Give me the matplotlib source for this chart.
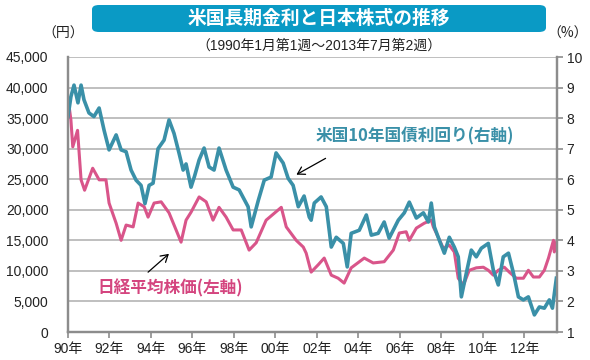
import matplotlib
matplotlib.use('Agg')
from matplotlib import pyplot as plt
from matplotlib.patches import FancyBboxPatch

# Data (decimal year, value)
NIKKEI_YEARS = [1990.0, 1990.14, 1990.23, 1990.46, 1990.63, 1990.8, 1991.19, 1991.5,
                1991.83, 1991.98, 1992.32, 1992.56, 1992.8, 1993.14, 1993.38, 1993.67,
                1993.86, 1994.15, 1994.49, 1994.87, 1995.21, 1995.45, 1995.69, 1995.93,
                1996.32, 1996.66, 1996.99, 1997.28, 1997.62, 1997.96, 1998.35, 1998.73,
                1999.07, 1999.55, 2000.28, 2000.52, 2001.0, 2001.34, 2001.48, 2001.72,
                2002.06, 2002.35, 2002.69, 2003.02, 2003.31, 2003.65, 2004.28, 2004.71,
                2005.24, 2005.68, 2005.97, 2006.3, 2006.45, 2006.79, 2007.17, 2007.51,
                2007.61, 2007.75, 2008.09, 2008.38, 2008.62, 2008.81, 2009.06, 2009.34,
                2009.68, 2010.02, 2010.26, 2010.5, 2010.74, 2011.03, 2011.27, 2011.61,
                2011.95, 2012.19, 2012.43, 2012.72, 2012.96, 2013.16, 2013.4, 2013.44,
                2013.55]
NIKKEI = [38300, 34700, 30300, 33000, 24900, 23200, 26800, 24900,
          24900, 21100, 17800, 15000, 17500, 17200, 21100, 20500,
          18800, 21100, 21300, 19500, 16700, 14700, 18300, 19600,
          22100, 21300, 18300, 20400, 18800, 16700, 16700, 13400,
          14600, 18300, 20400, 17200, 15000, 13900, 12900, 9800,
          11000, 12100, 9300, 8800, 8000, 10500, 12100, 11300,
          11500, 13400, 16200, 16400, 15000, 17000, 17800, 18300,
          17200, 16200, 13700, 14200, 13100, 8800, 7700, 10100,
          10500, 10600, 10100, 9300, 10100, 10600, 9800, 8800,
          8800, 10100, 9000, 9000, 10100, 12100, 15000, 13100,
          14700]

US10Y_YEARS = [1990.0, 1990.14, 1990.29, 1990.48, 1990.63, 1990.77, 1991.01, 1991.25,
               1991.5, 1991.74, 1991.98, 1992.32, 1992.56, 1992.8, 1993.04, 1993.28,
               1993.52, 1993.71, 1993.91, 1994.1, 1994.34, 1994.63, 1994.87, 1995.11,
               1995.35, 1995.55, 1995.69, 1995.93, 1996.1, 1996.32, 1996.56, 1996.8,
               1997.04, 1997.28, 1997.62, 1997.96, 1998.25, 1998.68, 1998.83, 1999.17,
               1999.46, 1999.79, 2000.03, 2000.37, 2000.61, 2000.85, 2001.1, 2001.38,
               2001.63, 2001.72, 2001.87, 2002.2, 2002.45, 2002.69, 2002.93, 2003.27,
               2003.46, 2003.65, 2004.04, 2004.38, 2004.62, 2004.95, 2005.24, 2005.48,
               2005.92, 2006.21, 2006.45, 2006.79, 2007.13, 2007.37, 2007.51, 2007.66,
               2007.9, 2008.14, 2008.38, 2008.62, 2008.81, 2008.96, 2009.2, 2009.44,
               2009.68, 2009.92, 2010.26, 2010.5, 2010.74, 2010.98, 2011.23, 2011.47,
               2011.71, 2011.95, 2012.19, 2012.48, 2012.72, 2012.96, 2013.2, 2013.35,
               2013.54]
US10Y = [8.05, 8.7, 9.08, 8.5, 9.08, 8.6, 8.17, 8.05,
         8.33, 7.6, 6.96, 7.45, 6.96, 6.9, 6.3, 5.97,
         5.8, 5.2, 5.8, 5.87, 7.0, 7.28, 7.94, 7.5,
         6.86, 6.3, 6.5, 5.74, 6.1, 6.63, 7.02, 6.4,
         6.3, 7.02, 6.3, 5.74, 5.65, 5.1, 4.44, 5.3,
         5.97, 6.07, 6.86, 6.53, 6.03, 5.8, 5.1, 5.45,
         4.76, 4.66, 5.22, 5.42, 5.1, 3.78, 4.1, 3.9,
         3.13, 4.23, 4.33, 4.83, 4.17, 4.23, 4.6, 4.07,
         4.66, 4.9, 5.25, 4.73, 4.9, 4.6, 5.22, 4.44,
         4.0, 3.58, 4.1, 3.78, 3.46, 2.15, 2.93, 3.68,
         3.46, 3.74, 3.9, 3.03, 2.54, 3.46, 3.58, 2.93,
         2.15, 2.05, 2.15, 1.56, 1.82, 1.78, 2.05, 1.78,
         2.76]

TICK_YEARS = list(range(1990, 2013, 2))
TICK_LABELS = ['%02d年' % (y % 100) for y in TICK_YEARS]

PINK = '#d9558a'
TEAL = '#3a90a8'
TITLE_BG = '#0a9ac5'
FONTS = ['Liberation Sans', 'Noto Sans CJK JP', 'DejaVu Sans']
JP = ['Noto Sans CJK JP', 'DejaVu Sans']

plt.rcParams['font.family'] = FONTS

W, H = 590, 360
fig = plt.figure(figsize=(W / 100, H / 100), dpi=100)

def fx(px):
    return px / W

def fy(py):
    return 1 - py / H

ax = fig.add_axes([fx(68), fy(332), fx(557) - fx(68), fy(57) - fy(332)])
ax2 = ax.twinx()

ax.plot(NIKKEI_YEARS, NIKKEI, color=PINK, lw=2.2, solid_joinstyle='round')
ax2.plot(US10Y_YEARS, US10Y, color=TEAL, lw=2.6, solid_joinstyle='round')

ax.set_xlim(1990, 2013.57)
ax.set_ylim(0, 45000)
ax2.set_ylim(1, 10)
ax.set_yticks(range(0, 45001, 5000))
ax.set_yticklabels(['{:,}'.format(v) for v in range(0, 45001, 5000)])
ax2.set_yticks(range(1, 11))
ax.set_xticks(TICK_YEARS)
ax.set_xticklabels(TICK_LABELS)

ax.grid(axis='y', color='#b4b4b4', lw=1.2)
ax.set_axisbelow(True)
for a in (ax, ax2):
    a.spines['top'].set_visible(False)
    for s in ('left', 'right', 'bottom'):
        a.spines[s].set_color('#8c8c8c')
        a.spines[s].set_linewidth(1.6)
ax.tick_params(axis='y', length=0, pad=14, labelsize=10, colors='#222222')
ax2.tick_params(axis='y', length=4, width=1.2, color='#8c8c8c', pad=3, labelsize=10, labelcolor='#222222')
ax.tick_params(axis='x', length=4, width=1.2, color='#8c8c8c', pad=3, labelsize=10, labelcolor='#222222')

# Title box
box = FancyBboxPatch((fx(92), fy(32)), fx(546) - fx(92), fy(5) - fy(32),
                     boxstyle='round,pad=0,rounding_size=0.012',
                     transform=fig.transFigure, facecolor=TITLE_BG, edgecolor='none')
fig.patches.append(box)
fig.text(fx(319), fy(18.5), '米国長期金利と日本株式の推移', ha='center', va='center',
         color='white', fontsize=13.5, fontweight='bold', family=JP)
fig.text(fx(319), fy(46), '（1990年1月第1週～2013年7月第2週）', ha='center', va='center',
         fontsize=10, color='#222222', family=FONTS)
fig.text(fx(63), fy(34), '（円）', ha='center', va='center', fontsize=10, color='#222222', family=JP)
fig.text(fx(568), fy(34), '（%）', ha='center', va='center', fontsize=10, color='#222222', family=JP)

# Series labels with arrows
fig.text(fx(415), fy(136), '米国10年国債利回り(右軸)', ha='center', va='center',
         color=TEAL, fontsize=12, fontweight='bold', family=JP)
fig.text(fx(170), fy(288), '日経平均株価(左軸)', ha='center', va='center',
         color='#d4457f', fontsize=12, fontweight='bold', family=JP)
fig.patches.append(matplotlib.patches.FancyArrowPatch(
    (fx(328), fy(157)), (fx(294), fy(176)), transform=fig.transFigure,
    arrowstyle='->,head_length=5,head_width=3', color='black', lw=0.9))
fig.patches.append(matplotlib.patches.FancyArrowPatch(
    (fx(146), fy(274)), (fx(171), fy(252)), transform=fig.transFigure,
    arrowstyle='->,head_length=5,head_width=3', color='black', lw=0.9))

fig.savefig('out.png', dpi=100)
